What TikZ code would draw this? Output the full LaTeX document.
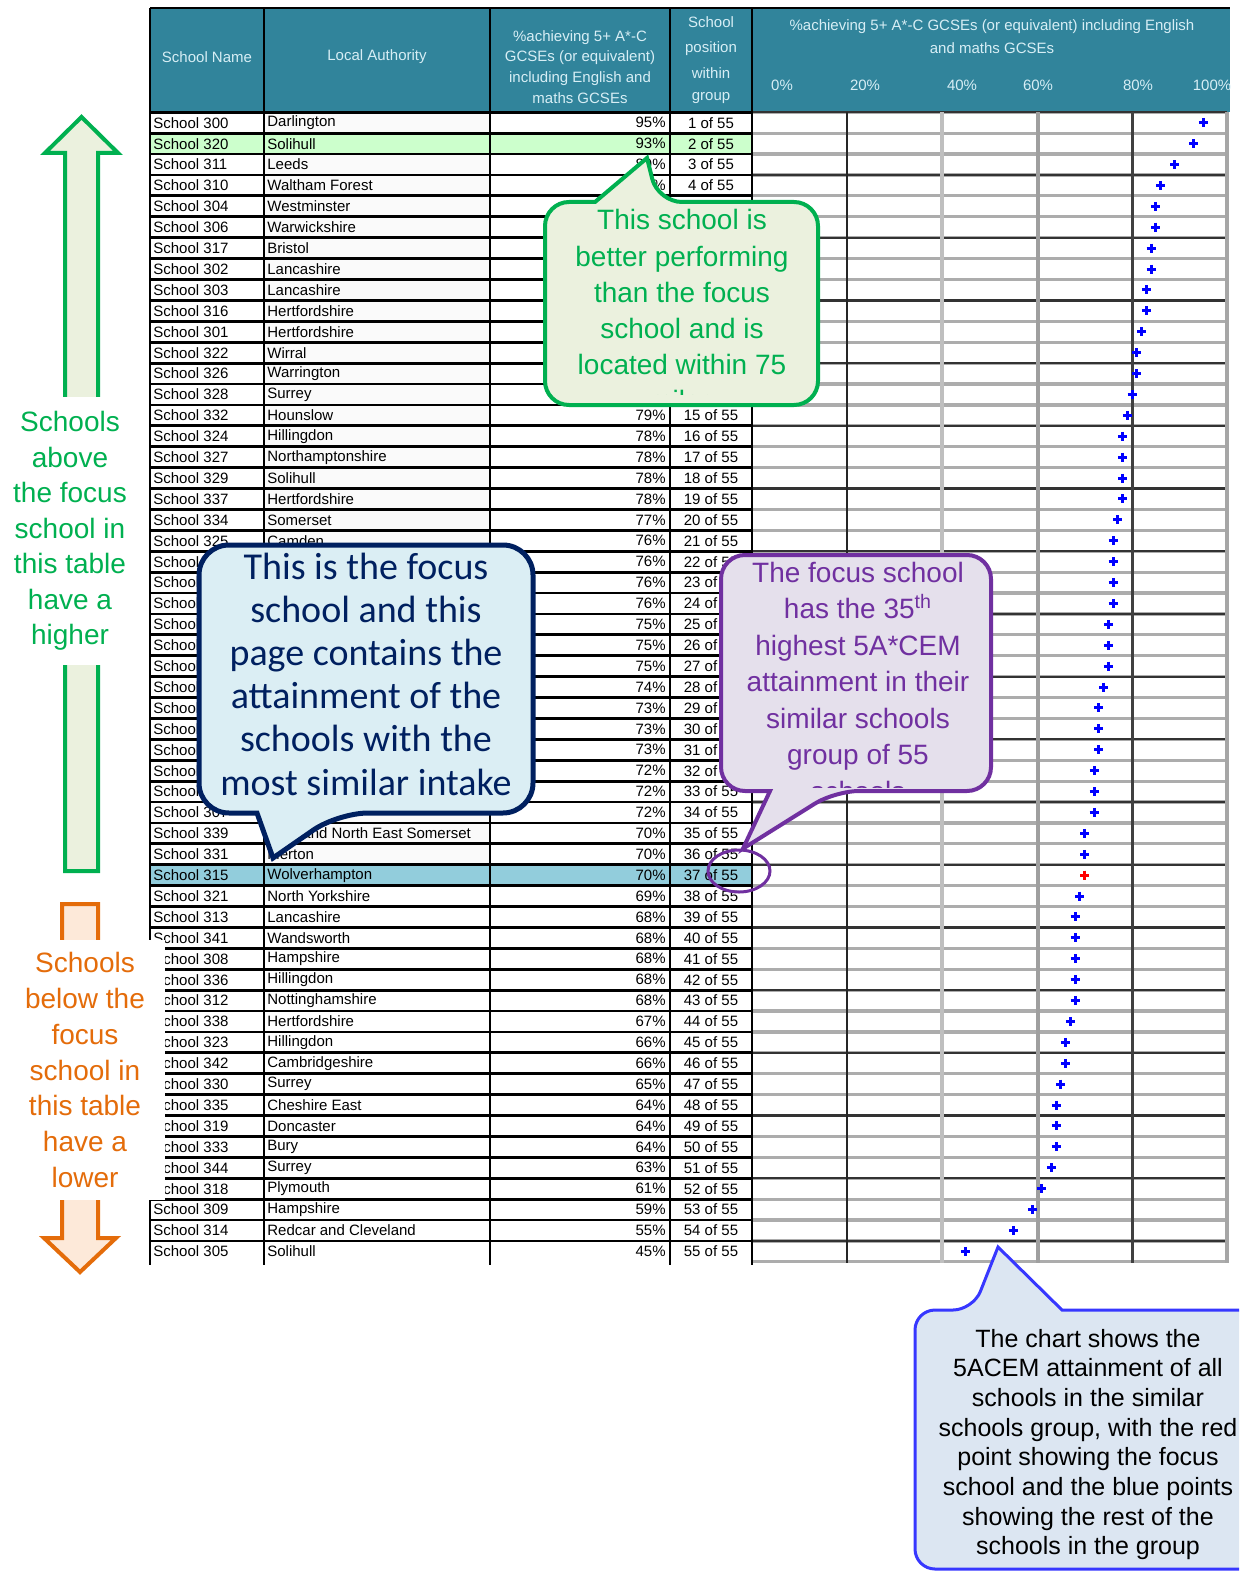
\documentclass[tikz,border=0pt]{standalone}
\usepackage{fontspec}
\setmainfont{Liberation Sans}
\newfontfamily\calibri{Carlito}
\usetikzlibrary{shapes.geometric}
\definecolor{headteal}{RGB}{49,132,155}
\definecolor{headtxt}{RGB}{215,238,245}
\definecolor{rowgreen}{RGB}{204,255,204}
\definecolor{rowfocus}{RGB}{146,205,220}
\definecolor{okgreen}{RGB}{0,176,80}
\definecolor{okgreenfill}{RGB}{235,241,222}
\definecolor{lowor}{RGB}{228,108,10}
\definecolor{lowfill}{RGB}{253,233,217}
\definecolor{navyline}{RGB}{0,32,96}
\definecolor{navyfill}{RGB}{219,238,244}
\definecolor{rankpurple}{RGB}{112,48,160}
\definecolor{rankfill}{RGB}{229,224,236}
\definecolor{noteblue}{RGB}{55,55,255}
\definecolor{notefill}{RGB}{220,230,242}

\begin{document}
\begin{tikzpicture}[x=0.5pt,y=-0.5pt,
    tline/.style={line width=1.4pt},
    cell/.style={font=\fontsize{7.5}{8}\selectfont, inner sep=0pt},
    headtext/.style={font=\fontsize{7.5}{9}\selectfont, text=headtxt, inner sep=0pt},
    ptmark/.style={line width=1.5pt},
    linetext/.style={inner sep=0pt, text height=10pt, text depth=3pt}]
  \useasboundingbox (0,0) rectangle (1239,1573);
  \clip (0,0) rectangle (1239,1573);

  % header
  \fill[headteal] (150,8) rectangle (1230,112.3);
  \node[headtext] (hname) at (207,57) {School Name};
  \node[headtext] (hla) at (377,57) {Local Authority};
  \foreach \t/\y [count=\k] in {\%achieving 5+ A*-C/38, GCSEs (or equivalent)/58, including English and/79, maths GCSEs/98}
    \node[headtext] (hpc\k) at (580,\y) {\t};
  \foreach \t/\y [count=\k] in {School/22, position/49, within/73, group/98}
    \node[headtext] (hpos\k) at (711,\y) {\t};
  \node[headtext] (hchart1) at (992,27) {\%achieving 5+ A*-C GCSEs (or equivalent) including English};
  \node[headtext] (hchart2) at (992,48) {and maths GCSEs};
  \foreach \t/\x [count=\k] in {0\%/782, 20\%/865, 40\%/962, 60\%/1038, 80\%/1138, 100\%/1212}
    \node[headtext] (tick\k) at (\x,85) {\t};

  % row fills
  \foreach \i in {1,...,36}
    \fill[gray!4] (264,{112.3+(\i-1)*20.9}) rectangle (490,{112.3+\i*20.9});
  \fill[rowgreen] (150,133.2) rectangle (752,154.1);
  \fill[rowfocus] (150,864.7) rectangle (752,885.6);

  % chart grid
  \foreach \k in {0,...,55}
    \draw[gray!65, line width=1.6pt] (752,{112.3+\k*20.9}) -- (1227,{112.3+\k*20.9});
  \foreach \k in {0,3,...,55}
    \draw[black!80, line width=1.1pt] (752,{112.3+\k*20.9}) -- (1227,{112.3+\k*20.9});
  \draw[black!85, line width=1.4pt] (847,112.3) -- (847,1263);
  \draw[gray!50, line width=1.6pt] (942,112.3) -- (942,1263);
  \draw[gray!75, line width=2.4pt] (1038,112.3) -- (1038,1263);
  \draw[black!75, line width=1.5pt] (1132,112.3) -- (1132,1263);
  \draw[gray!70, line width=1.6pt] (1227,112.3) -- (1227,1263);

  % table rows and points
  \foreach \sn/\la/\pc [count=\i] in {300/Darlington/95, 320/Solihull/93, 311/Leeds/89, 310/Waltham Forest/86,
      304/Westminster/85, 306/Warwickshire/85, 317/Bristol/84, 302/Lancashire/84, 303/Lancashire/83,
      316/Hertfordshire/83, 301/Hertfordshire/82, 322/Wirral/81, 326/Warrington/81, 328/Surrey/80,
      332/Hounslow/79, 324/Hillingdon/78, 327/Northamptonshire/78, 329/Solihull/78, 337/Hertfordshire/78,
      334/Somerset/77, 325/Camden/76, 340/Bromley/76, 343/Kent/76, 345/Essex/76, 346/Trafford/75,
      347/Stockport/75, 348/Sefton/75, 349/Barnet/74, 350/Harrow/73, 351/Sutton/73, 352/Bexley/73,
      353/Kingston upon Thames/72, 354/Richmond upon Thames/72, 307/Havering/72,
      339/Bath and North East Somerset/70, 331/Merton/70, 315/Wolverhampton/70, 321/North Yorkshire/69,
      313/Lancashire/68, 341/Wandsworth/68, 308/Hampshire/68, 336/Hillingdon/68, 312/Nottinghamshire/68,
      338/Hertfordshire/67, 323/Hillingdon/66, 342/Cambridgeshire/66, 330/Surrey/65, 335/Cheshire East/64,
      319/Doncaster/64, 333/Bury/64, 344/Surrey/63, 318/Plymouth/61, 309/Hampshire/59,
      314/Redcar and Cleveland/55, 305/Solihull/45} {
    \pgfmathsetmacro\yc{112.3+(\i-0.5)*20.9}
    \pgfmathtruncatemacro\hidla{and(\i>21,\i<35)}
    \pgfmathtruncatemacro\hidpc{and(\i>4,\i<15)}
    \node[cell,anchor=west] (sn\i) at (153,\yc) {School \sn};
    \ifnum\hidla=0 \node[cell,anchor=west] (la\i) at (267,\yc) {\la};\fi
    \ifnum\hidpc=0
      \node[cell,anchor=east] (pc\i) at (666,\yc) {\pc\%};
      \node[cell] (ps\i) at (711,\yc) {\i{} of 55};
    \fi
    \draw[ptmark, blue] ({752+4.75*\pc},\yc) +(-4.5,0) -- +(4.5,0) +(0,-4.5) -- +(0,4.5);
  }
  \draw[ptmark, red] ({752+4.75*70},875.2) +(-4.5,0) -- +(4.5,0) +(0,-4.5) -- +(0,4.5);

  % table lines
  \foreach \k in {0,...,54}
    \draw[tline] (150,{112.3+\k*20.9}) -- (752,{112.3+\k*20.9});
  \foreach \x in {150,264,490,670,752}
    \draw[tline] (\x,8) -- (\x,1265);
  \draw[tline] (150,8) -- (1230,8);

  % arrows at the left
  \draw[draw=okgreen, fill=okgreenfill, line width=2pt] (65,871) -- (65,153) -- (45,153) -- (81.5,117)
    -- (118,153) -- (98,153) -- (98,871) -- cycle;
  \node[fill=white, inner sep=0pt, minimum width=66pt, minimum height=134pt, align=center, text=okgreen,
    font=\fontsize{14}{17.75}\selectfont] (uplabel) at (70,531)
    {Schools\\above\\the focus\\school in\\this table\\have a\\higher};
  \draw[draw=lowor, fill=lowfill, line width=2pt] (62,904) -- (98,904) -- (98,1238) -- (116,1238)
    -- (80,1272) -- (44,1238) -- (62,1238) -- cycle;
  \node[fill=white, inner sep=0pt, minimum width=80pt, minimum height=130pt, align=center, text=lowor,
    font=\fontsize{14}{17.9}\selectfont] (lowlabel) at (85,1070)
    {Schools\\below the\\focus\\school in\\this table\\have a\\lower};

  % green note
  \draw[draw=okgreen, fill=okgreenfill, line width=2pt] (818,300) [rounded corners=12pt] -- (818,202)
    -- (658,202) [sharp corners] -- (647,158) -- (595,202) [rounded corners=12pt] -- (545,202)
    -- (545,405) -- (818,405) -- cycle;
  \begin{scope}
    \clip (545,202) rectangle (818,394);
    \foreach \t [count=\k] in {This school is, better performing, than the focus, school and is,
        located within 75, miles}
      \node[linetext, text=okgreen, font=\fontsize{14}{17}\selectfont] (gn\k) at (682,{223+36*(\k-1)}) {\t};
  \end{scope}

  % focus note
  \draw[draw=navyline, fill=navyfill, line width=2.5pt] (533,650) [rounded corners=15pt] -- (533,813)
    -- (338,813) [sharp corners] -- (273,858) -- (257,813) [rounded corners=15pt] -- (199,813)
    -- (199,545) -- (533,545) -- cycle;
  \foreach \t [count=\k] in {This is the focus, school and this, page contains the, attainment of the,
      schools with the, most similar intake}
    \node[linetext, text=navyline, font=\calibri\fontsize{19}{21}\selectfont] (fn\k) at (366,{572+43.2*(\k-1)}) {\t};

  % rank note
  \node[draw=rankpurple, line width=1.5pt, ellipse, minimum width=31pt, minimum height=21pt, inner sep=0pt]
    (ring) at (739,871) {};
  \draw[draw=rankpurple, fill=rankfill, line width=2pt] (991,650) [rounded corners=12pt] -- (991,791)
    -- (835,791) [sharp corners] -- (ring.80) -- (770,791) [rounded corners=12pt] -- (721,791)
    -- (721,555) -- (991,555) -- cycle;
  \begin{scope}
    \clip (721,555) rectangle (991,787);
    \foreach \t [count=\k] in {The focus school, has the 35\textsuperscript{th}, highest 5A*CEM,
        attainment in their, similar schools, group of 55, schools}
      \node[linetext, text=rankpurple, font=\fontsize{14}{17}\selectfont] (rn\k) at (858,{575+36.5*(\k-1)}) {\t};
  \end{scope}

  % chart note
  \draw[draw=noteblue, fill=notefill, line width=1.5pt] (915,1450) [rounded corners=10pt] -- (915,1310)
    -- (973,1310) [sharp corners] -- (998,1247) -- (1062,1310) [rounded corners=10pt] -- (1260,1310)
    -- (1260,1569) -- (915,1569) -- cycle;
  \foreach \t [count=\k] in {The chart shows the, 5ACEM attainment of all, schools in the similar,
      {schools group, with the red}, point showing the focus, school and the blue points,
      showing the rest of the, schools in the group}
    \node[linetext, font=\fontsize{12.5}{14}\selectfont] (cn\k) at (1088,{1340+29.7*(\k-1)}) {\t};
\end{tikzpicture}
\end{document}
